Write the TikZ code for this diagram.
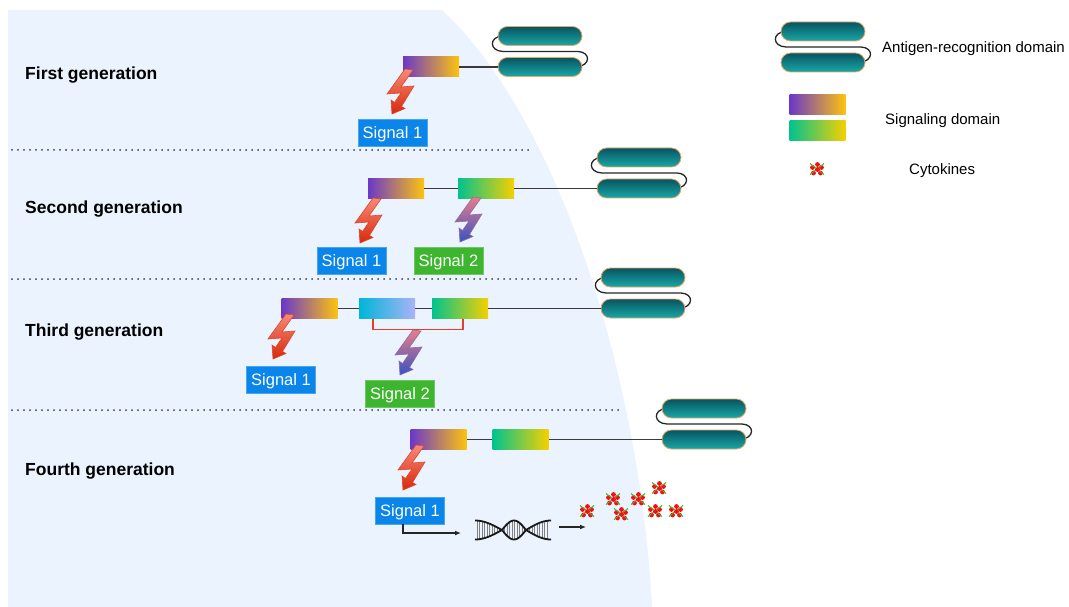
\documentclass[tikz,border=0pt]{standalone}
\usepackage{fontspec}
\setmainfont{Liberation Sans}
\usetikzlibrary{arrows.meta,calc}

\definecolor{bgblue}{HTML}{EBF4FE}
\definecolor{capTop}{HTML}{085460}
\definecolor{capBot}{HTML}{19A8A8}
\definecolor{capEdge}{HTML}{E9A765}
\definecolor{purp}{HTML}{6B38C9}
\definecolor{mauve}{HTML}{BC8C8A}
\definecolor{gold}{HTML}{FDC30F}
\definecolor{tealgreen}{HTML}{00C38E}
\definecolor{lime}{HTML}{8FCD62}
\definecolor{yell}{HTML}{F6D000}
\definecolor{cyanA}{HTML}{00B5D9}
\definecolor{lav}{HTML}{AAB3F7}
\definecolor{sigBlue}{HTML}{0A85E9}
\definecolor{sigGreen}{HTML}{3DB52E}
\definecolor{boltTop}{HTML}{F68A78}
\definecolor{boltBot}{HTML}{D7290B}
\definecolor{boltEdge}{HTML}{E0452C}
\definecolor{boltTopB}{HTML}{EE7C86}
\definecolor{boltBotB}{HTML}{3652C4}
\definecolor{boltEdgeB}{HTML}{8A6FA6}
\definecolor{linkGray}{HTML}{3A3A3A}
\definecolor{cytoRed}{HTML}{F41010}
\definecolor{cytoGreen}{HTML}{3CC43C}
\definecolor{bracketRed}{HTML}{EE3B25}

\tikzset{
  capsule/.style={draw=capEdge, line width=0.8pt, rounded corners=9.5pt,
    minimum width=84pt, minimum height=19pt, inner sep=0pt,
    top color=capTop, bottom color=capBot},
  domainbox/.style={minimum width=56pt, minimum height=20pt, inner sep=0pt},
  sdA/.style={domainbox, left color=purp, middle color=mauve, right color=gold},
  sdB/.style={domainbox, left color=tealgreen, middle color=lime, right color=yell},
  sdC/.style={domainbox, left color=cyanA, right color=lav},
  sigbox/.style={minimum width=69pt, minimum height=27pt, inner sep=0pt,
    text=white, font=\fontsize{16.5}{18}\selectfont,
    text height=11.8pt, text depth=0pt},
  sig1/.style={sigbox, fill=sigBlue, draw=sigBlue!75!white, line width=0.6pt},
  sig2/.style={sigbox, fill=sigGreen, draw=sigGreen!75!white, line width=0.6pt},
  linker/.style={draw=linkGray, line width=1.4pt},
  tether/.style={draw=black!85, line width=1.3pt},
  gentitle/.style={anchor=base west, inner sep=0pt,
    font=\fontsize{17.5}{20}\selectfont\bfseries},
  legendtxt/.style={anchor=base west, inner sep=0pt,
    font=\fontsize{15}{18}\selectfont},
  divider/.style={line width=2pt, dash pattern=on 0pt off 6pt,
    line cap=round, draw=black!75},
  arrowline/.style={draw=black!85, line width=1.2pt,
    -{Latex[length=6pt,width=5pt]}},
  redbracket/.style={draw=bracketRed, line width=1.4pt},
  strand/.style={draw=black!90, line width=1.8pt},
  rung/.style={draw=black!50, line width=0.6pt},
  pics/bolt/.style n args={3}{code={
    \draw[line width=0.6pt, draw=#3, top color=#1, bottom color=#2]
      (13,-45) -- (21,-44) -- (9,-27) -- (22,-28) -- (9.5,-7.5)
      -- (13,-5.5) -- (0,0) -- (-1,-14) -- (2.5,-11.5) -- (9,-21)
      -- (-5,-20) -- cycle;
  }},
  pics/cytokine/.style={code={
    \draw[cytoGreen, line width=0.9pt] (-7,-5.5) -- (7,5.5) (-7,5.5) -- (7,-5.5);
    \foreach \p in {(0.5,-4.5),(-4.5,-1.5),(4.5,-1.5),(-3.5,4),(3.5,4),(0.5,0.5)}
      \fill[cytoRed] \p circle (2.4);
    \draw[cytoGreen, line width=0.7pt] (-7,-5.5) -- (-2,-1.6) (7,5.5) -- (2,1.6)
      (-7,5.5) -- (-2,1.6) (7,-5.5) -- (2,-1.6);
  }},
  declare function={dnaph(\t)=(\t<502) ? 90*(\t-475)/27 :
    ((\t<526) ? 90+180*(\t-502)/24 : 270+90*(\t-526)/25);}
}

% pair of antigen-binding capsules joined by a flexible tether
% #1 name prefix, #2 left x, #3 centre y of the lower capsule
\newcommand\antigenpair[3]{%
  \draw[tether] ({#2+4},{#3-31}) .. controls ({#2-9},{#3-30}) and ({#2-9},{#3-16})
    .. ({#2+5},{#3-15.5}) -- ({#2+80},{#3-15.5})
    .. controls ({#2+93},{#3-15}) and ({#2+93},{#3-1}) .. ({#2+78},{#3});
  \node[capsule] (#1t) at ({#2+42},{#3-31}) {};
  \node[capsule] (#1b) at ({#2+42},{#3}) {};
}

\begin{document}
\begin{tikzpicture}[x=1pt,y=-1pt]
\useasboundingbox (0,0) rectangle (1069,607);
\fill[white] (0,0) rectangle (1069,607);

% cell interior
\fill[bgblue] (8,10) -- (442,10) .. controls (560,120) and (640,380) .. (652,607)
  -- (8,607) -- cycle;

% section dividers
\draw[divider] (12,150) -- (528,150);
\draw[divider] (12,279) -- (581,279);
\draw[divider] (12,410) -- (621,410);

% section titles
\node[gentitle] (t1) at (25,80) {First generation};
\node[gentitle] (t2) at (25,213) {Second generation};
\node[gentitle] (t3) at (25,336) {Third generation};
\node[gentitle] (t4) at (25,475) {Fourth generation};

% ---- first generation
\antigenpair{g1cap}{498}{67}
\node[sdA] (g1a) at (431,67) {};
\draw[linker] (g1a.east) -- (g1capb.west);
\pic at (392,114) {bolt={boltTop}{boltBot}{boltEdge}};
\node[sig1] (g1s1) at (392.5,132.5) {Signal 1};

% ---- second generation
\antigenpair{g2cap}{597}{188.5}
\node[sdA] (g2a) at (396,188.5) {};
\node[sdB] (g2b) at (486,188.5) {};
\draw[linker] (g2a.east) -- (g2b.west);
\draw[linker] (g2b.east) -- (g2capb.west);
\pic at (360,243) {bolt={boltTop}{boltBot}{boltEdge}};
\pic at (460,242) {bolt={boltTopB}{boltBotB}{boltEdgeB}};
\node[sig1] (g2s1) at (351.5,261) {Signal 1};
\node[sig2] (g2s2) at (448.5,260.5) {Signal 2};

% ---- third generation
\antigenpair{g3cap}{601}{308.5}
\node[sdA] (g3a) at (309.5,308.5) {};
\node[sdC] (g3b) at (387,308.5) {};
\node[sdB] (g3c) at (460,308.5) {};
\draw[linker] (g3a.east) -- (g3b.west);
\draw[linker] (g3b.east) -- (g3c.west);
\draw[linker] (g3c.east) -- (g3capb.west);
\draw[redbracket] ([xshift=-14pt]g3b.south) -- ++(0,11) -| ([xshift=3pt]g3c.south);
\pic at (273,359) {bolt={boltTop}{boltBot}{boltEdge}};
\pic at (400,375) {bolt={boltTopB}{boltBotB}{boltEdgeB}};
\node[sig1] (g3s1) at (281,380) {Signal 1};
\node[sig2] (g3s2) at (400,393.5) {Signal 2};

% ---- fourth generation
\antigenpair{g4cap}{662}{439.5}
\node[sdA] (g4a) at (438.5,439.5) {};
\node[sdB] (g4b) at (520.5,439.5) {};
\draw[linker] (g4a.east) -- (g4b.west);
\draw[linker] (g4b.east) -- (g4capb.west);
\pic at (403,490) {bolt={boltTop}{boltBot}{boltEdge}};
\node[sig1] (g4s1) at (410,510.5) {Signal 1};

% transgene (DNA double helix)
\foreach \xx in {477,479.5,...,549}
  \draw[rung] (\xx,{530-9.5*cos(dnaph(\xx))}) -- (\xx,{530+9.5*cos(dnaph(\xx))});
\draw[strand] plot[domain=475:551, samples=80, smooth] (\x,{530-9.5*cos(dnaph(\x))});
\draw[strand] plot[domain=475:551, samples=80, smooth] (\x,{530+9.5*cos(dnaph(\x))});
\coordinate (dnaL) at (461,533);
\coordinate (dnaR) at (559,527);
\coordinate (cytoL) at (586,527);
\draw[arrowline] ([xshift=-7pt]g4s1.south) |- (dnaL);
\draw[arrowline] (dnaR) -- (cytoL);

% secreted cytokines
\foreach \c in {(587,511),(613,499),(621,514),(638,499),(659,488),(655,511),(676,511)}
  \pic at \c {cytokine};

% ---- legend
\antigenpair{lgcap}{781}{62.5}
\node[sdA] (lga) at (817.5,105) {};
\node[sdB] (lgb) at (817.5,131) {};
\pic at (817,169) {cytokine};
\node[legendtxt] (lt1) at (882,52.4) {Antigen-recognition domain};
\node[legendtxt] (lt2) at (885,124.8) {Signaling domain};
\node[legendtxt] (lt3) at (909,174.4) {Cytokines};
\end{tikzpicture}
\end{document}
